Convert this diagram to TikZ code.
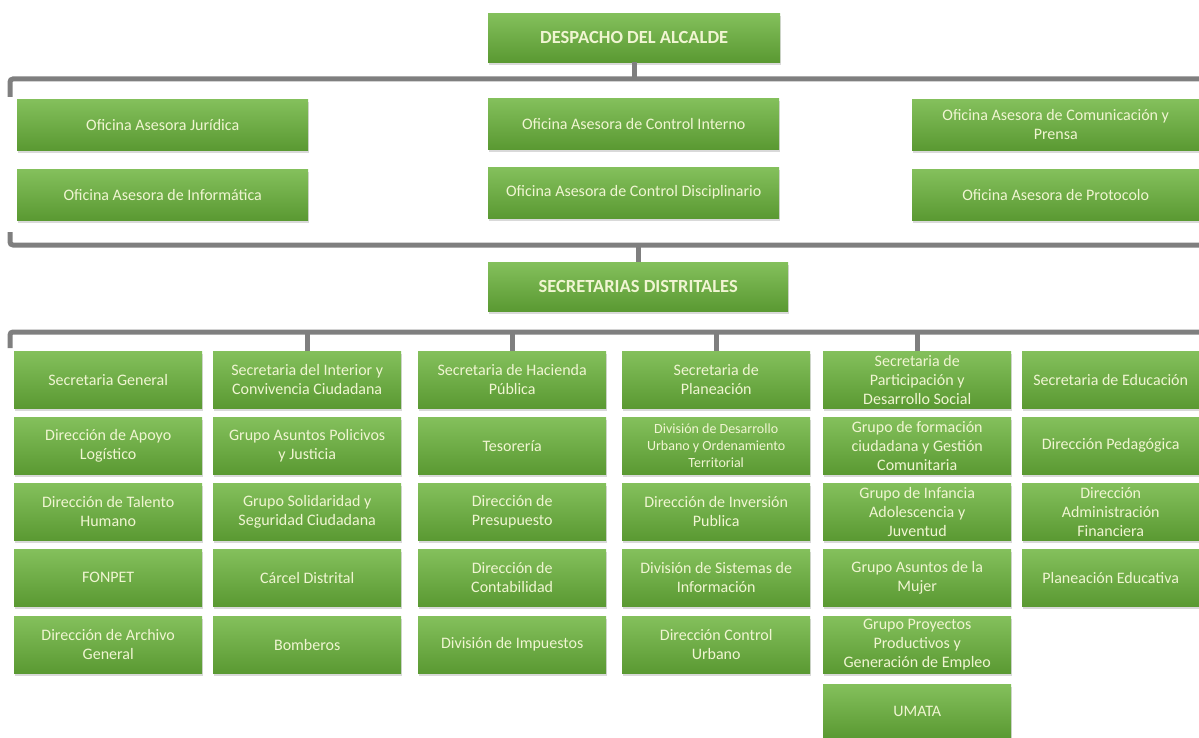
\documentclass[tikz,border=0pt]{standalone}
\usepackage{fontspec}
\setmainfont{Carlito}
\usetikzlibrary{shadows}
\definecolor{gtop}{HTML}{84C05C}
\definecolor{gbot}{HTML}{5A9932}
\definecolor{txt}{HTML}{F0F5D2}
\definecolor{barc}{HTML}{7F7F7F}
\begin{document}
\begin{tikzpicture}[x=1pt,y=-1pt,
  box/.style={rectangle, anchor=north west, top color=gtop, bottom color=gbot,
    draw=none, text=txt, align=center, inner sep=1pt,
    drop shadow={shadow xshift=0.5pt, shadow yshift=-2.5pt, opacity=0.3},
    font=\fontsize{16}{19}\selectfont},
  titlebox/.style={box, font=\bfseries\fontsize{18.5}{21}\selectfont, minimum height=49pt},
  widebox/.style={box, minimum width=291pt, minimum height=51pt},
  colbox/.style={box, minimum width=188pt, minimum height=57pt},
  lastbox/.style={box, minimum width=177pt, minimum height=57pt},
  smalltext/.style={font=\fontsize{14}{17}\selectfont},
  conn/.style={draw=barc, line width=5pt, rounded corners=3pt}]
\useasboundingbox (0,0) rectangle (1199,738);

% top level
\node[titlebox, minimum width=292pt] (desp) at (488,13) {DESPACHO DEL ALCALDE};
\node[widebox] (jur) at (17,99) {Oficina Asesora Jurídica};
\node[widebox] (inf) at (17,169) {Oficina Asesora de Informática};
\node[widebox] (cint) at (488,98) {Oficina Asesora de Control Interno};
\node[widebox] (cdis) at (488,167) {Oficina Asesora de Control Disciplinario};
\node[widebox, minimum width=287pt] (com) at (912,99) {Oficina Asesora de Comunicación y\\Prensa};
\node[widebox, minimum width=287pt] (prot) at (912,169) {Oficina Asesora de Protocolo};
\node[titlebox, minimum width=300pt] (secd) at (488,262) {SECRETARIAS DISTRITALES};

% column 1
\node[colbox] (a1) at (14,351) {Secretaria General};
\node[colbox] (a2) at (14,417) {Dirección de Apoyo\\Logístico};
\node[colbox] (a3) at (14,483) {Dirección de Talento\\Humano};
\node[colbox] (a4) at (14,549) {FONPET};
\node[colbox] (a5) at (14,616) {Dirección de Archivo\\General};
% column 2
\node[colbox] (b1) at (213,351) {Secretaria del Interior y\\Convivencia Ciudadana};
\node[colbox] (b2) at (213,417) {Grupo Asuntos Policivos\\y Justicia};
\node[colbox] (b3) at (213,483) {Grupo Solidaridad y\\Seguridad Ciudadana};
\node[colbox] (b4) at (213,549) {Cárcel Distrital};
\node[colbox] (b5) at (213,616) {Bomberos};
% column 3
\node[colbox] (c1) at (418,351) {Secretaria de Hacienda\\Pública};
\node[colbox] (c2) at (418,417) {Tesorería};
\node[colbox] (c3) at (418,483) {Dirección de\\Presupuesto};
\node[colbox] (c4) at (418,549) {Dirección de\\Contabilidad};
\node[colbox] (c5) at (418,616) {División de Impuestos};
% column 4
\node[colbox] (d1) at (622,351) {Secretaria de\\Planeación};
\node[colbox, smalltext] (d2) at (622,417) {División de Desarrollo\\Urbano y Ordenamiento\\Territorial};
\node[colbox] (d3) at (622,483) {Dirección de Inversión\\Publica};
\node[colbox] (d4) at (622,549) {División de Sistemas de\\Información};
\node[colbox] (d5) at (622,616) {Dirección Control\\Urbano};
% column 5
\node[colbox] (e1) at (823,351) {Secretaria de\\Participación y\\Desarrollo Social};
\node[colbox] (e2) at (823,417) {Grupo de formación\\ciudadana y Gestión\\Comunitaria};
\node[colbox] (e3) at (823,483) {Grupo de Infancia\\Adolescencia y\\Juventud};
\node[colbox] (e4) at (823,549) {Grupo Asuntos de la\\Mujer};
\node[colbox] (e5) at (823,616) {Grupo Proyectos\\Productivos y\\Generación de Empleo};
\node[colbox, minimum height=54pt] (e6) at (823,684) {UMATA};
% column 6
\node[lastbox] (f1) at (1022,351) {Secretaria de Educación};
\node[lastbox] (f2) at (1022,417) {Dirección Pedagógica};
\node[lastbox] (f3) at (1022,483) {Dirección\\Administración\\Financiera};
\node[lastbox] (f4) at (1022,549) {Planeación Educativa};

% connectors
\coordinate (t1l) at (10,97);
\coordinate (t1c) at (10,79);
\coordinate (t1r) at (1199,79);
\draw[conn] (t1l) -- (t1c) -- (t1r);
\draw[conn] (desp.south) -- (desp.south |- t1r);

\coordinate (t2l) at (10,232);
\coordinate (t2c) at (10,245);
\coordinate (t2r) at (1199,245);
\draw[conn] (t2l) -- (t2c) -- (t2r);
\draw[conn] (secd.north |- t2r) -- (secd.north);

\coordinate (t3l) at (10,348);
\coordinate (t3c) at (10,332);
\coordinate (t3r) at (1199,332);
\draw[conn] (t3l) -- (t3c) -- (t3r);
\foreach \n in {b1,c1,d1,e1} {
  \draw[conn] (\n.north |- t3r) -- (\n.north);
}
\end{tikzpicture}
\end{document}
